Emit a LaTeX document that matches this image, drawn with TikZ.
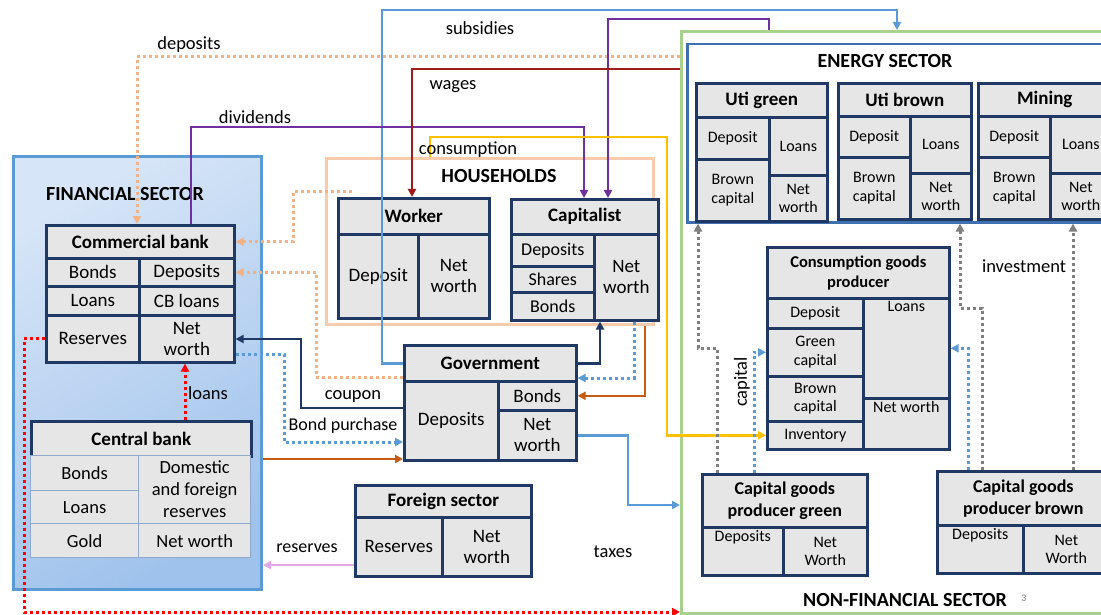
\documentclass[tikz,border=0pt]{standalone}
\usepackage{fontspec}
\setmainfont{Carlito}
\usetikzlibrary{arrows.meta}

\definecolor{navy}{HTML}{1F3864}
\definecolor{cellgray}{HTML}{E7E6E6}
\definecolor{paleline}{HTML}{8EA9CC}
\definecolor{fsblue}{HTML}{5B9BD5}
\definecolor{fstop}{HTML}{D6E5F7}
\definecolor{fsbot}{HTML}{9FC2EC}
\definecolor{peach}{HTML}{F8CBAD}
\definecolor{depo}{HTML}{F4B183}
\definecolor{nfgreen}{HTML}{A9D18E}
\definecolor{enblue}{HTML}{3E70B0}
\definecolor{purp}{HTML}{7030A0}
\definecolor{wagered}{HTML}{A01C1C}
\definecolor{cons}{HTML}{FFC000}
\definecolor{rust}{HTML}{C55A11}
\definecolor{resv}{HTML}{E2A6E6}
\definecolor{capgray}{HTML}{7F7F7F}

\begin{document}
\begin{tikzpicture}[x=1pt, y=-1pt,
    cell/.style={draw=navy, line width=2.6pt, fill=cellgray, anchor=north west,
        inner sep=0pt, align=center, font=\fontsize{19}{21}\selectfont},
    head/.style={cell, font=\bfseries\fontsize{19}{21}\selectfont},
    scell/.style={cell, font=\fontsize{16}{18.5}\selectfont},
    shead/.style={cell, font=\bfseries\fontsize{16.5}{20}\selectfont},
    cbcell/.style={cell, draw=paleline, line width=1.3pt, font=\fontsize{18.5}{22}\selectfont},
    intext/.style={anchor=north, inner sep=4pt, font=\fontsize{16}{18.5}\selectfont},
    sector/.style={font=\bfseries\fontsize{20}{22}\selectfont},
    lbl/.style={font=\fontsize{18.5}{21}\selectfont},
    flow/.style={line width=2.4pt, -{Triangle[length=8pt,width=8pt]}},
    dots/.style={flow, line width=3pt, dash pattern=on 3pt off 3pt}]

    \path[use as bounding box, fill=white] (0,0) rectangle (1101,615);

    % sectors
    \node[draw=fsblue, line width=3pt, top color=fstop, bottom color=fsbot, shading angle=30,
        minimum width=248pt, minimum height=433pt, anchor=north west] (fin) at (12,155) {};
    \node[draw=peach, line width=3pt, minimum width=327pt, minimum height=166pt, anchor=north west] (hh) at (325,157) {};
    \node[draw=nfgreen, line width=3pt, minimum width=440pt, minimum height=582pt, anchor=north west] (nonfin) at (680,30) {};
    \node[draw=enblue, line width=2.5pt, fill=white, minimum width=430pt, minimum height=178pt, anchor=north west] (energy) at (686,43) {};

    \node[sector] at (125,194) {FINANCIAL SECTOR};
    \node[sector] at (499,176) {HOUSEHOLDS};
    \node[sector] at (885,61) {ENERGY SECTOR};
    \node[sector] at (905,600) {NON-FINANCIAL SECTOR};
    \node[text=capgray, font=\fontsize{10}{12}\selectfont] at (1024,598) {3};

    % commercial bank
    \node[head, minimum width=188pt, minimum height=33pt] (cb) at (45,224) {Commercial bank};
    \node[cell, minimum width=93pt, minimum height=28pt] (cbBonds) at (45,257) {Bonds};
    \node[cell, minimum width=95pt, minimum height=28pt] (cbDep) at (138,257) {Deposits};
    \node[cell, minimum width=93pt, minimum height=29pt] (cbLoans) at (45,285) {Loans};
    \node[cell, minimum width=95pt, minimum height=29pt] (cbCBloans) at (138,285) {CB loans};
    \node[cell, minimum width=93pt, minimum height=47pt] (cbRes) at (45,314) {Reserves};
    \node[cell, minimum width=95pt, minimum height=47pt] (cbNW) at (138,314) {Net\\worth};

    % central bank
    \node[head, minimum width=220pt, minimum height=35pt] (centb) at (30,420) {Central bank};
    \node[cbcell, minimum width=108pt, minimum height=35pt] (ckBonds) at (30,455) {Bonds};
    \node[cbcell, minimum width=108pt, minimum height=33pt] (ckLoans) at (30,490) {Loans};
    \node[cbcell, minimum width=108pt, minimum height=34pt] (ckGold) at (30,523) {Gold};
    \node[cbcell, minimum width=112pt, minimum height=68pt] (ckRes) at (138,455) {Domestic\\and foreign\\reserves};
    \node[cbcell, minimum width=112pt, minimum height=34pt] (ckNW) at (138,523) {Net worth};

    % households
    \node[head, minimum width=151pt, minimum height=36pt] (wk) at (337,197) {Worker};
    \node[cell, minimum width=80pt, minimum height=84pt] (wkDep) at (337,233) {Deposit};
    \node[cell, minimum width=71pt, minimum height=84pt] (wkNW) at (417,233) {Net\\worth};

    \node[head, minimum width=147pt, minimum height=35pt] (cap) at (510,198) {Capitalist};
    \node[cell, minimum width=83pt, minimum height=32pt, font=\fontsize{18}{20}\selectfont] (capDep) at (510,233) {Deposits};
    \node[cell, minimum width=83pt, minimum height=26pt, font=\fontsize{18}{20}\selectfont] (capSh) at (510,265) {Shares};
    \node[cell, minimum width=83pt, minimum height=28pt, font=\fontsize{18}{20}\selectfont] (capBo) at (510,291) {Bonds};
    \node[cell, minimum width=64pt, minimum height=86pt] (capNW) at (593,233) {Net\\worth};

    % government and foreign sector
    \node[head, minimum width=172pt, minimum height=36pt] (gov) at (403,344) {Government};
    \node[cell, minimum width=94pt, minimum height=79pt] (govDep) at (403,380) {Deposits};
    \node[cell, minimum width=78pt, minimum height=29pt] (govBo) at (497,380) {Bonds};
    \node[cell, minimum width=78pt, minimum height=50pt] (govNW) at (497,409) {Net\\worth};

    \node[head, minimum width=176pt, minimum height=32pt] (fs) at (354,484) {Foreign sector};
    \node[cell, minimum width=87pt, minimum height=59pt] (fsRes) at (354,516) {Reserves};
    \node[cell, minimum width=89pt, minimum height=59pt] (fsNW) at (441,516) {Net\\worth};

    % energy sector
    \node[head, minimum width=131pt, minimum height=34pt] (ug) at (695,82) {Uti green};
    \node[scell, minimum width=73pt, minimum height=42pt] (ugDep) at (695,116) {Deposit};
    \node[scell, minimum width=73pt, minimum height=62pt] (ugBC) at (695,158) {Brown\\capital};
    \node[scell, minimum width=58pt, minimum height=58pt] (ugLo) at (768,116) {Loans};
    \node[scell, minimum width=58pt, minimum height=46pt] (ugNW) at (768,174) {Net\\worth};

    \node[head, minimum width=133pt, minimum height=33pt] (ub) at (837,82) {Uti brown};
    \node[scell, minimum width=72pt, minimum height=41pt] (ubDep) at (837,115) {Deposit};
    \node[scell, minimum width=72pt, minimum height=62pt] (ubBC) at (837,156) {Brown\\capital};
    \node[scell, minimum width=61pt, minimum height=57pt] (ubLo) at (909,115) {Loans};
    \node[scell, minimum width=61pt, minimum height=46pt] (ubNW) at (909,172) {Net\\worth};

    \node[head, minimum width=133pt, minimum height=33pt] (mi) at (977,82) {Mining};
    \node[scell, minimum width=72pt, minimum height=41pt] (miDep) at (977,115) {Deposit};
    \node[scell, minimum width=72pt, minimum height=62pt] (miBC) at (977,156) {Brown\\capital};
    \node[scell, minimum width=61pt, minimum height=57pt] (miLo) at (1049,115) {Loans};
    \node[scell, minimum width=61pt, minimum height=46pt] (miNW) at (1049,172) {Net\\worth};

    % firms
    \node[shead, minimum width=182pt, minimum height=51pt] (cg) at (766,246) {Consumption goods\\producer};
    \node[scell, minimum width=96pt, minimum height=30pt] (cgDep) at (766,297) {Deposit};
    \node[scell, minimum width=96pt, minimum height=48pt] (cgGC) at (766,327) {Green\\capital};
    \node[scell, minimum width=96pt, minimum height=45pt] (cgBC) at (766,375) {Brown\\capital};
    \node[scell, minimum width=96pt, minimum height=28pt] (cgInv) at (766,420) {Inventory};
    \node[scell, minimum width=86pt, minimum height=100pt, label={[intext]north:Loans}] (cgLo) at (862,297) {};
    \node[scell, minimum width=86pt, minimum height=51pt, label={[intext]north:Net worth}] (cgNW) at (862,397) {};

    \node[head, minimum width=165pt, minimum height=53pt, font=\bfseries\fontsize{18}{22}\selectfont] (kg) at (701,473) {Capital goods\\producer green};
    \node[scell, minimum width=81pt, minimum height=48pt, label={[intext]north:Deposits}] (kgDep) at (701,526) {};
    \node[scell, minimum width=84pt, minimum height=48pt] (kgNW) at (782,526) {Net\\Worth};

    \node[head, minimum width=172pt, minimum height=54pt, font=\bfseries\fontsize{18}{22}\selectfont] (kb) at (936,470) {Capital goods\\producer brown};
    \node[scell, minimum width=86pt, minimum height=48pt, label={[intext]north:Deposits}] (kbDep) at (936,524) {};
    \node[scell, minimum width=86pt, minimum height=48pt] (kbNW) at (1022,524) {Net\\Worth};

    % flows
    \draw[dots, depo] (nonfin.west |- 0,57) -- (137,57) -- (137,0 |- cb.north);
    \draw[flow, fsblue] (gov.west) -- (382,0 |- gov.west) -- (382,10) -- (897,10) -- (897,0 |- nonfin.north);
    \draw[flow, purp] (769,0 |- nonfin.north) -- (769,19) -- (608,19) -- (608,0 |- cap.north);
    \draw[flow, purp] (191,0 |- cb.north) -- (191,127) -- (584,127) -- (584,0 |- cap.north);
    \draw[flow, wagered] (nonfin.west |- 0,69) -- (412,69) -- (412,0 |- wk.north);
    \draw[flow, cons] (430,0 |- hh.north) -- (430,137) -- (667,137) -- (667,0 |- cgInv.west) -- (cgInv.west);
    \coordinate (wkdep) at (352,192);
    \draw[dots, depo] (wkdep) -- (293,192) -- (293,0 |- cb.east) -- (cb.east);
    \draw[dots, depo] (gov.west |- 0,377) -- (316,377) -- (316,0 |- cbDep.east) -- (cbDep.east);
    \draw[flow, navy] (govDep.west |- 0,408) -- (301,408) -- (301,339) -- (cbNW.east |- 0,339);
    \draw[dots, fsblue] (cbNW.east |- 0,354) -- (284,354) -- (284,442) -- (govDep.west |- 0,442);
    \draw[flow, rust] (fin.east |- 0,459) -- (govDep.west |- 0,459);
    \draw[flow, navy] (gov.east) -- (600,0 |- gov.east) -- (600,0 |- capNW.south);
    \draw[dots, fsblue] (634,0 |- capNW.south) -- (634,378) -- (gov.east |- 0,378);
    \draw[flow, rust] (645,0 |- hh.south) -- (645,0 |- govBo.east) -- (govBo.east);
    \draw[flow, fsblue] (govNW.east) -- (628,0 |- govNW.east) -- (628,505) -- (nonfin.west |- 0,505);
    \draw[flow, resv] (fsRes.west |- 0,565) -- (fin.east |- 0,565);
    \draw[dots, red] (185,0 |- centb.north) -- (185,0 |- cbNW.south);
    \draw[dots, red] (cbRes.west) -- (24,0 |- cbRes.west) -- (24,612) -- (nonfin.west |- 0,612);
    \draw[dots, capgray] (717,0 |- kg.north) -- (717,348) -- (698,348) -- (698,0 |- energy.south);
    \draw[dots, fsblue] (754,0 |- kg.north) -- (754,0 |- cgGC.west) -- (cgGC.west);
    \draw[dots, capgray] (982,0 |- kb.north) -- (982,308) -- (960,308) -- (960,0 |- energy.south);
    \draw[dots, capgray] (1073,0 |- kb.north) -- (1073,0 |- energy.south);
    \draw[dots, fsblue] (968,0 |- kb.north) -- (968,0 |- cgLo.east) -- (cgLo.east);

    % labels
    \node[lbl] at (189,45) {deposits};
    \node[lbl] at (480,28) {subsidies};
    \node[lbl] at (255,117) {dividends};
    \node[lbl] at (453,87) {wages};
    \node[lbl] at (468,150) {consumption};
    \node[lbl] at (353,396) {coupon};
    \node[lbl, font=\fontsize{18}{20}\selectfont] at (343,426) {Bond purchase};
    \node[lbl] at (208,393) {loans};
    \node[lbl, font=\fontsize{18}{20}\selectfont] at (307,548) {reserves};
    \node[lbl] at (613,552) {taxes};
    \node[lbl, rotate=90] at (742,382) {capital};
    \node[lbl] at (1024,266) {investment};
\end{tikzpicture}
\end{document}
